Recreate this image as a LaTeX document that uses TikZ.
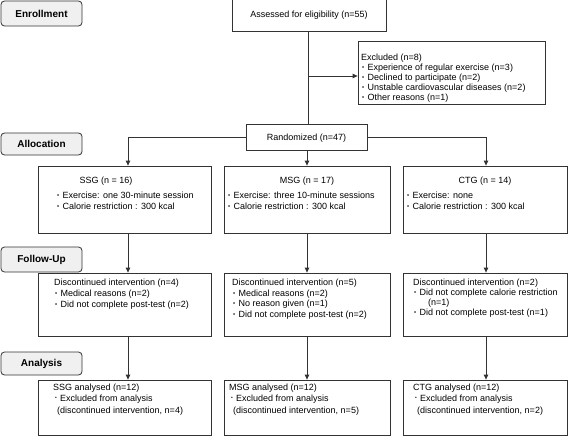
\documentclass[tikz,border=0pt]{standalone}
\usepackage{fontspec}
\setmainfont{Liberation Sans}
\usetikzlibrary{arrows.meta,fit}
\definecolor{lc}{HTML}{333333}
\definecolor{lab}{HTML}{F0F0F0}
\newcommand\bl{\makebox[5.5pt][l]{\raisebox{0.8pt}{\fontsize{6}{6}\selectfont •}}}
\newcommand\st{\makebox[5pt][l]{\raisebox{2.2pt}{\fontsize{5}{5}\selectfont •}}}
\tikzset{
  box/.style={draw=lc, line width=0.8pt, rectangle, inner sep=0pt},
  lbl/.style={draw=lc, line width=0.8pt, fill=lab, rounded corners=3.5pt, inner sep=0pt},
  lbltxt/.style={inner sep=0pt, font=\fontsize{10}{12}\selectfont\bfseries},
  txt/.style={anchor=base west, inner sep=0pt, font=\fontsize{9}{11}\selectfont},
  ctxt/.style={anchor=base, inner sep=0pt, font=\fontsize{9}{11}\selectfont},
  arr/.style={draw=lc, line width=0.8pt, -{Triangle[length=5pt,width=4.5pt]}},
  ln/.style={draw=lc, line width=0.8pt},
}
\begin{document}
\begin{tikzpicture}[x=1pt,y=-1pt]
\useasboundingbox (0,0) rectangle (568,436);

% stage labels
\node[lbl, fit={(1,1) (82,26)}] (lenr) {};
\node[lbltxt] (tenr) at (lenr.center) {Enrollment};
\node[lbl, fit={(1,133) (82,155)}] (lall) {};
\node[lbltxt] (tall) at (lall.center) {Allocation};
\node[lbl, fit={(1,247) (82,272)}] (lfol) {};
\node[lbltxt] (tfol) at (lfol.center) {Follow-Up};
\node[lbl, fit={(1,352) (82,375)}] (lana) {};
\node[lbltxt] (tana) at (lana.center) {Analysis};

% enrollment
\node[box, fit={(232,-0.5) (386,31)}] (ass) {};
\node[ctxt] (tass) at (309,18) {Assessed for eligibility (n=55)};
\node[box, fit={(358,41) (545,104)}] (exc) {};
\node[txt] (ex0) at (361,60.5) {Excluded (n=8)};
\node[txt] (ex1) at (362,70.5) {\bl Experience of regular exercise (n=3)};
\node[txt] (ex2) at (362,80.5) {\bl Declined to participate (n=2)};
\node[txt] (ex3) at (362,90.5) {\bl Unstable cardiovascular diseases (n=2)};
\node[txt] (ex4) at (362,100.5) {\bl Other reasons (n=1)};
\node[box, fit={(246,124) (367,150)}] (rnd) {};
\node[ctxt] (trnd) at (306.5,140) {Randomized (n=47)};

% allocation
\node[box, fit={(38,166) (211,233)}] (ssg) {};
\node[ctxt] (s0) at (106,183) {SSG (n = 16)};
\node[txt] (s1) at (57,198.5) {\bl Exercise: one 30-minute session};
\node[txt] (s2) at (57,209.5) {\bl Calorie restriction : 300 kcal};
\node[box, fit={(224,166) (390,233)}] (msg) {};
\node[ctxt] (m0) at (307,183) {MSG (n = 17)};
\node[txt] (m1) at (228,198.5) {\bl Exercise: three 10-minute sessions};
\node[txt] (m2) at (228,209.5) {\bl Calorie restriction : 300 kcal};
\node[box, fit={(403,166) (567,233)}] (ctg) {};
\node[ctxt] (c0) at (485,183) {CTG (n = 14)};
\node[txt] (c1) at (407,198.5) {\bl Exercise: none};
\node[txt] (c2) at (407,209.5) {\bl Calorie restriction : 300 kcal};

% follow-up
\node[box, fit={(38,273) (211,336)}] (sf) {};
\node[txt] (sf0) at (54,285.5) {Discontinued intervention (n=4)};
\node[txt] (sf1) at (55,296.5) {\bl Medical reasons (n=2)};
\node[txt] (sf2) at (55,307.5) {\bl Did not complete post-test (n=2)};
\node[box, fit={(224,273) (390,336)}] (mf) {};
\node[txt] (mf0) at (232,285.5) {Discontinued intervention (n=5)};
\node[txt] (mf1) at (233,296) {\bl Medical reasons (n=2)};
\node[txt] (mf2) at (233,306.5) {\bl No reason given (n=1)};
\node[txt] (mf3) at (233,317) {\bl Did not complete post-test (n=2)};
\node[box, fit={(403,273) (567,336)}] (cf) {};
\node[txt] (cf0) at (413,285.5) {Discontinued intervention (n=2)};
\node[txt] (cf1) at (414,295.5) {\bl Did not complete calorie restriction};
\node[txt] (cf2) at (428,305) {(n=1)};
\node[txt] (cf3) at (414,315.5) {\bl Did not complete post-test (n=1)};

% analysis
\node[box, fit={(38,380) (211,435)}] (sa) {};
\node[txt] (sa0) at (53,390) {SSG analysed (n=12)};
\node[txt] (sa1) at (55,401.5) {\st Excluded from analysis};
\node[txt] (sa2) at (57,413.5) {(discontinued intervention, n=4)};
\node[box, fit={(224,380) (390,435)}] (ma) {};
\node[txt] (ma0) at (229,390) {MSG analysed (n=12)};
\node[txt] (ma1) at (231,401.5) {\st Excluded from analysis};
\node[txt] (ma2) at (233,413.5) {(discontinued intervention, n=5)};
\node[box, fit={(403,380) (567,435)}] (ca) {};
\node[txt] (ca0) at (413,390) {CTG analysed (n=12)};
\node[txt] (ca1) at (415,401.5) {\st Excluded from analysis};
\node[txt] (ca2) at (417,413.5) {(discontinued intervention, n=2)};

% connector guides
\coordinate (vx) at (308,0);
\coordinate (xs) at (128,0);
\coordinate (xm) at (307,0);
\coordinate (xc) at (486,0);
\coordinate (br) at (308,76);

% connectors
\draw[ln] (ass.south -| vx) -- (rnd.north -| vx);
\draw[arr] (br) -- (br -| exc.west);
\draw[arr] (rnd.west) -| (ssg.north -| xs);
\draw[arr] (rnd.south -| xm) -- (msg.north -| xm);
\draw[arr] (rnd.east) -| (ctg.north -| xc);
\draw[arr] (ssg.south -| xs) -- (sf.north -| xs);
\draw[arr] (msg.south -| xm) -- (mf.north -| xm);
\draw[arr] (ctg.south -| xc) -- (cf.north -| xc);
\draw[arr] (sf.south -| xs) -- (sa.north -| xs);
\draw[arr] (mf.south -| xm) -- (ma.north -| xm);
\draw[arr] (cf.south -| xc) -- (ca.north -| xc);
\end{tikzpicture}
\end{document}
